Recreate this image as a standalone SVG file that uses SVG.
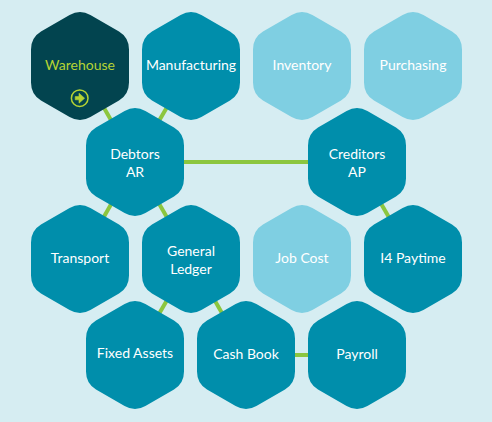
<svg xmlns="http://www.w3.org/2000/svg" width="492" height="422" viewBox="0 0 492 422">
<style>
.hex{fill:#008eab}
.light{fill:#7fcfe2}
.dark{fill:#02444f}
text{font-family:"Lato","Liberation Sans",sans-serif;font-size:14px;fill:#fff;text-anchor:middle}
.lime{fill:#b5d334}
#connectors line{stroke:#8cc63f;stroke-width:4}
</style>
<defs>
<path id="h" d="M-10.4-51Q0-57 10.4-51L39-34.5Q49-28.5 49-16.5V16.5Q49 28.5 39 34.5L10.4 51Q0 57-10.4 51L-39 34.5Q-49 28.5-49 16.5V-16.5Q-49-28.5-39-34.5Z"/>
</defs>
<rect width="492" height="422" fill="#d6edf2"/>
<g id="connectors">
<line x1="80" y1="66" x2="135" y2="162"/>
<line x1="191" y1="66" x2="135" y2="162"/>
<line x1="135" y1="162" x2="357" y2="162"/>
<line x1="135" y1="162" x2="80" y2="259"/>
<line x1="135" y1="162" x2="191" y2="259"/>
<line x1="357" y1="162" x2="413" y2="259"/>
<line x1="191" y1="259" x2="135" y2="355"/>
<line x1="191" y1="259" x2="246" y2="355"/>
<line x1="246" y1="355" x2="357" y2="355"/>
</g>
<g id="warehouse"><use href="#h" x="80" y="66" class="dark"/><text x="80" y="70" class="lime">Warehouse</text>
<circle cx="79.7" cy="98.2" r="8.3" fill="none" stroke="#b5d334" stroke-width="1.5"/><path d="M75.2 96.6H79V93.2L84.6 98.2L79 103.2V99.8H75.2Z" fill="#b5d334" stroke="#b5d334" stroke-width=".6" stroke-linejoin="round"/></g>
<g id="manufacturing"><use href="#h" x="191" y="66" class="hex"/><text x="191" y="70">Manufacturing</text></g>
<g id="inventory"><use href="#h" x="302" y="66" class="light"/><text x="302" y="70">Inventory</text></g>
<g id="purchasing"><use href="#h" x="413" y="66" class="light"/><text x="413" y="70">Purchasing</text></g>
<g id="debtors"><use href="#h" x="135" y="162" class="hex"/><text x="135" y="159">Debtors</text><text x="135" y="177">AR</text></g>
<g id="creditors"><use href="#h" x="357" y="162" class="hex"/><text x="357" y="159">Creditors</text><text x="357" y="177">AP</text></g>
<g id="transport"><use href="#h" x="80" y="259" class="hex"/><text x="80" y="263">Transport</text></g>
<g id="general-ledger"><use href="#h" x="191" y="259" class="hex"/><text x="191" y="256">General</text><text x="191" y="274">Ledger</text></g>
<g id="job-cost"><use href="#h" x="302" y="259" class="light"/><text x="302" y="263">Job Cost</text></g>
<g id="i4-paytime"><use href="#h" x="413" y="259" class="hex"/><text x="413" y="263">I4 Paytime</text></g>
<g id="fixed-assets"><use href="#h" x="135" y="355" class="hex"/><text x="135" y="358">Fixed Assets</text></g>
<g id="cash-book"><use href="#h" x="246" y="355" class="hex"/><text x="246" y="359">Cash Book</text></g>
<g id="payroll"><use href="#h" x="357" y="355" class="hex"/><text x="357" y="359">Payroll</text></g>
</svg>
